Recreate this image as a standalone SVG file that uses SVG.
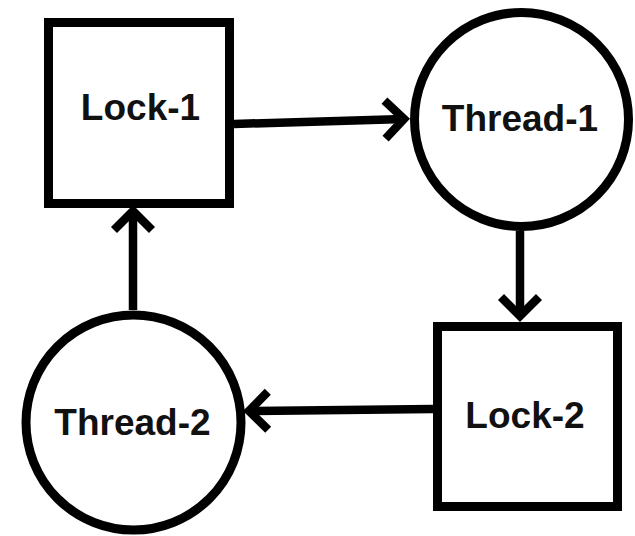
<svg xmlns="http://www.w3.org/2000/svg" width="635" height="536" viewBox="0 0 635 536">
  <style>
    .shape { fill: #fff; stroke: #000; stroke-width: 9; }
    .edge { fill: none; stroke: #000; stroke-width: 8.5; }
    .label { font-family: "Liberation Sans", Arial, sans-serif; font-weight: bold; font-size: 37px; fill: #111; text-anchor: middle; }
  </style>
  <defs>
    <marker id="arrow" markerUnits="userSpaceOnUse" viewBox="-30 -30 60 60" markerWidth="60" markerHeight="60" refX="0" refY="0" orient="auto" overflow="visible">
      <path d="M-19,-19 L0,0 L-19,19" fill="none" stroke="#000" stroke-width="8.5"/>
    </marker>
  </defs>
  <rect width="635" height="536" fill="#fff"/>
  <g id="connectors">
    <path class="edge" d="M234,124 L404,119" marker-end="url(#arrow)"/>
    <path class="edge" d="M520,231 L520,316" marker-end="url(#arrow)"/>
    <path class="edge" d="M433,409 L249,411" marker-end="url(#arrow)"/>
    <path class="edge" d="M133,310 L133,211" marker-end="url(#arrow)"/>
  </g>
  <g id="lock1">
    <rect class="shape" x="48.5" y="22.5" width="181" height="181"/>
    <text class="label" x="140.5" y="120">Lock-1</text>
  </g>
  <g id="thread1">
    <circle class="shape" cx="521.5" cy="119.5" r="107"/>
    <text class="label" x="520" y="131">Thread-1</text>
  </g>
  <g id="lock2">
    <rect class="shape" x="437.5" y="326.5" width="180" height="180"/>
    <text class="label" x="525" y="428">Lock-2</text>
  </g>
  <g id="thread2">
    <circle class="shape" cx="133.5" cy="422.5" r="107.5"/>
    <text class="label" x="132.5" y="435">Thread-2</text>
  </g>
</svg>
